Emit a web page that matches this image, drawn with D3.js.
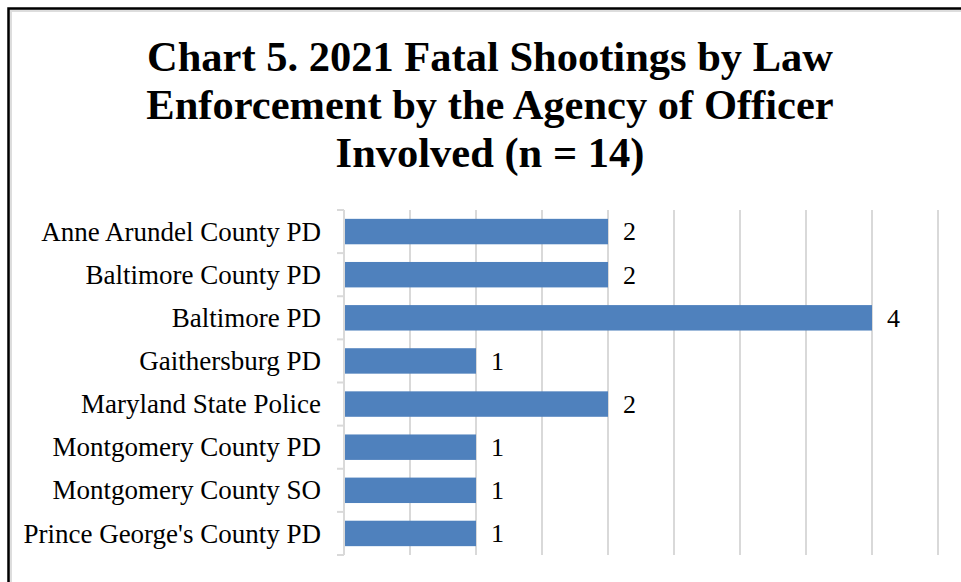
<!DOCTYPE html>
<html>
<head>
<meta charset="utf-8">
<script src="https://cdn.jsdelivr.net/npm/d3@7"></script>
<style>
  html, body { margin: 0; padding: 0; background: #fff; }
  svg { display: block; }
</style>
</head>
<body>
<div id="chart"></div>
<script>
// Daten aus dem Diagramm
var agencies = [
  "Anne Arundel County PD",
  "Baltimore County PD",
  "Baltimore PD",
  "Gaithersburg PD",
  "Maryland State Police",
  "Montgomery County PD",
  "Montgomery County SO",
  "Prince George's County PD"
];
var shootings = [2, 2, 4, 1, 2, 1, 1, 1];
var titleLines = [
  "Chart 5. 2021 Fatal Shootings by Law",
  "Enforcement by the Agency of Officer",
  "Involved (n = 14)"
];
var xTicks = [0, 0.5, 1, 1.5, 2, 2.5, 3, 3.5, 4, 4.5];

var width = 961, height = 582;
var plot = { left: 344, right: 938, top: 210, bottom: 555 };
var serif = "'Liberation Serif', 'Times New Roman', serif";

var svg = d3.select("#chart").append("svg")
  .attr("width", width)
  .attr("height", height);

// Rahmen (rechts und unten abgeschnitten)
svg.append("rect")
  .attr("x", 9).attr("y", 9)
  .attr("width", width + 20).attr("height", height + 20)
  .attr("fill", "none")
  .attr("stroke", "#ddd")
  .attr("stroke-width", 3)
  .attr("transform", "translate(1.5,1.5)");
svg.append("rect")
  .attr("x", 8.5).attr("y", 8.5)
  .attr("width", width + 20).attr("height", height + 20)
  .attr("fill", "none")
  .attr("stroke", "#000")
  .attr("stroke-width", 2.5);

// Titel
svg.append("g")
  .selectAll("text")
  .data(titleLines)
  .join("text")
  .attr("x", 490)
  .attr("y", function(d, i){ return 71 + i * 48; })
  .attr("text-anchor", "middle")
  .attr("font-family", serif)
  .attr("font-weight", "bold")
  .attr("font-size", 42.5)
  .attr("fill", "#000")
  .text(function(d){ return d; });

var x = d3.scaleLinear().domain([0, 4.5]).range([plot.left, plot.right]);
var y = d3.scaleBand().domain(agencies)
  .range([plot.top, plot.bottom])
  .paddingInner(0.41)
  .paddingOuter(0.205);

// Gitterlinien
svg.append("g")
  .selectAll("line")
  .data(xTicks.slice(1))
  .join("line")
  .attr("x1", function(d){ return x(d); })
  .attr("x2", function(d){ return x(d); })
  .attr("y1", plot.top)
  .attr("y2", plot.bottom)
  .attr("stroke", "#d9d9d9")
  .attr("stroke-width", 2);

// Balken
svg.append("g")
  .selectAll("rect")
  .data(agencies)
  .join("rect")
  .attr("x", x(0))
  .attr("y", function(d){ return y(d); })
  .attr("width", function(d, i){ return x(shootings[i]) - x(0); })
  .attr("height", y.bandwidth())
  .attr("fill", "#4f81bd");

// y-Achse mit Strichen zwischen den Kategorien
var yAxis = svg.append("g");
yAxis.append("line")
  .attr("x1", plot.left).attr("x2", plot.left)
  .attr("y1", plot.top).attr("y2", plot.bottom)
  .attr("stroke", "#d9d9d9")
  .attr("stroke-width", 2);
var bounds = d3.range(agencies.length + 1).map(function(i){
  return plot.top + i * y.step();
});
yAxis.selectAll(".tick")
  .data(bounds)
  .join("line")
  .attr("class", "tick")
  .attr("x1", plot.left - 7).attr("x2", plot.left)
  .attr("y1", function(d){ return d; })
  .attr("y2", function(d){ return d; })
  .attr("stroke", "#d9d9d9")
  .attr("stroke-width", 2);

// Kategorienamen
svg.append("g")
  .selectAll("text")
  .data(agencies)
  .join("text")
  .attr("x", 321)
  .attr("y", function(d){ return y(d) + y.bandwidth() / 2; })
  .attr("dy", "0.34em")
  .attr("text-anchor", "end")
  .attr("font-family", serif)
  .attr("font-size", 27)
  .attr("fill", "#000")
  .text(function(d){ return d; });

// Wertebeschriftung
svg.append("g")
  .selectAll("text")
  .data(agencies)
  .join("text")
  .attr("x", function(d, i){ return x(shootings[i]) + 15; })
  .attr("y", function(d){ return y(d) + y.bandwidth() / 2; })
  .attr("dy", "0.34em")
  .attr("font-family", serif)
  .attr("font-size", 26)
  .attr("fill", "#000")
  .text(function(d, i){ return shootings[i]; });
</script>
</body>
</html>
